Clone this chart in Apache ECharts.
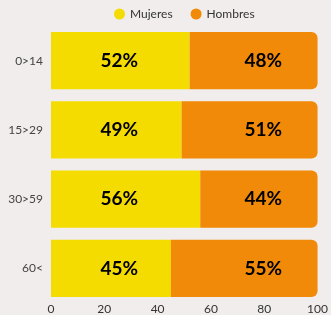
<!DOCTYPE html>
<html><head><meta charset="utf-8">
<script src="https://cdn.jsdelivr.net/npm/echarts@6/dist/echarts.min.js"></script>
<style>html,body{margin:0;padding:0;background:#f1edec;}#c{width:331px;height:315px;}</style>
</head><body><div id="c"></div>
<script>
const categories = ['0>14', '15>29', '30>59', '60<'];
const mujeres = [52, 49, 56, 45];
const hombres = [48, 51, 44, 55];
const xTicks = [0, 20, 40, 60, 80, 100];

const chart = echarts.init(document.getElementById('c'));
const lblBase = {show: true, formatter: '{c}%', color: '#000', fontSize: 19, fontWeight: 'bold', fontFamily: 'Lato',
  align: 'center', verticalAlign: 'middle'};
chart.setOption({
  backgroundColor: '#f1edec',
  animation: false,
  legend: {top: 3, left: 109, itemWidth: 11, itemHeight: 11, itemGap: 18, icon: 'circle',
    textStyle: {fontFamily: 'Lato', fontSize: 12, color: '#333'}, data: ['Mujeres', 'Hombres']},
  grid: {left: 51, right: 11, top: 26, bottom: 10, containLabel: false},
  xAxis: {type: 'value', min: 0, max: 100, interval: 20, splitLine: {show: false},
    axisLine: {show: false}, axisTick: {show: false},
    axisLabel: {margin: 0, fontFamily: 'Lato', fontSize: 12, color: '#333', verticalAlign: 'top',
      formatter: v => xTicks.includes(v) ? String(v) : ''}},
  yAxis: {type: 'category', inverse: true, data: categories, axisLine: {show: false}, axisTick: {show: false},
    axisLabel: {margin: 8, fontFamily: 'Lato', fontSize: 12, color: '#444'}},
  series: [
    {name: 'Mujeres', type: 'bar', stack: 't', data: mujeres, barCategoryGap: '17%', itemStyle: {color: '#f5dc00'}, label: Object.assign({position: 'inside'}, lblBase)},
    {name: 'Hombres', type: 'bar', stack: 't', data: hombres, itemStyle: {color: '#f08a08', borderRadius: [0, 6, 6, 0]}, label: Object.assign({position: 'inside'}, lblBase)}
  ]
});
// labels sit at fixed column positions (as in the reference), relative to each bar's left edge
const px = v => chart.convertToPixel({gridIndex: 0}, [v, 0])[0];
const mujLabelAt = 25.6, homLabelAt = 79.6;
chart.setOption({
  series: [
    {data: mujeres.map(v => ({value: v, label: {position: [px(mujLabelAt) - px(0), '50%']}}))},
    {data: hombres.map((v, i) => ({value: v, label: {position: [px(homLabelAt) - px(mujeres[i]), '50%']}}))}
  ]
});
</script></body></html>
